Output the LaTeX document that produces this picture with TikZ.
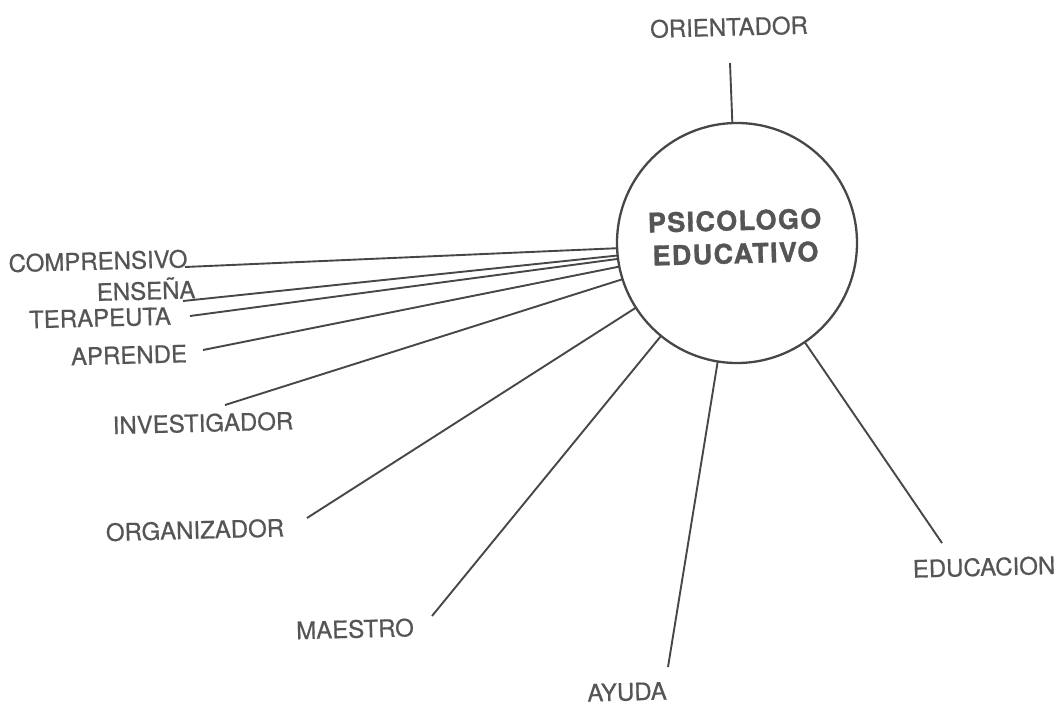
\documentclass[tikz,border=0pt]{standalone}
\usepackage{fontspec}
\setmainfont{TeX Gyre Heros}
\usepackage{tikz}
\definecolor{txtgray}{HTML}{555555}
\definecolor{linegray}{HTML}{474747}

\begin{document}
\begin{tikzpicture}[x=1pt,y=-1pt,
    lbl/.style={text=txtgray, inner sep=0pt, rotate=1.5,
        font=\fontsize{24}{24}\selectfont\addfontfeatures{FakeBold=0.6}},
    link/.style={draw=linegray, line width=1.9pt}]
        \useasboundingbox (0,0) rectangle (1063,707);

        % Psicologo educativo
        \node [draw=linegray,
            circle,
            line width=2.3pt,
            minimum size=240pt,
            inner sep=0pt, outer sep=0pt,
        ] (psicologo) at (737,243) {};
        \node [text=txtgray, align=center, rotate=1.5,
            font=\fontsize{27}{33}\selectfont\bfseries\addfontfeatures{LetterSpace=5,FakeBold=1.2},
        ] (titulo) at (735,237) {PSICOLOGO\\EDUCATIVO};

        % Labels
        \node [lbl] (orientador) at (729,27) {ORIENTADOR};
        \node [lbl] (comprensivo) at (98,261) {COMPRENSIVO};
        \node [lbl] (ensena) at (146,289) {ENSEÑA};
        \node [lbl] (terapeuta) at (100,318) {TERAPEUTA};
        \node [lbl] (aprende) at (129,355) {APRENDE};
        \node [lbl] (investigador) at (203,423) {INVESTIGADOR};
        \node [lbl] (organizador) at (195,530) {ORGANIZADOR};
        \node [lbl] (maestro) at (355,629) {MAESTRO};
        \node [lbl] (ayuda) at (627,692) {AYUDA};
        \node [lbl] (educacion) at (984,567) {EDUCACION};

        % Free ends
        \coordinate (e-orientador) at (730,63);
        \coordinate (e-comprensivo) at (185,267);
        \coordinate (e-ensena) at (183,301);
        \coordinate (e-terapeuta) at (190,316);
        \coordinate (e-aprende) at (203,350);
        \coordinate (e-investigador) at (225,405);
        \coordinate (e-organizador) at (307,518);
        \coordinate (e-maestro) at (432,616);
        \coordinate (e-ayuda) at (668,667);
        \coordinate (e-educacion) at (942,543);

        \foreach \n in {orientador,comprensivo,ensena,terapeuta,aprende,
            investigador,organizador,maestro,ayuda,educacion}
            \draw[link] (psicologo)--(e-\n);
\end{tikzpicture}
\end{document}
